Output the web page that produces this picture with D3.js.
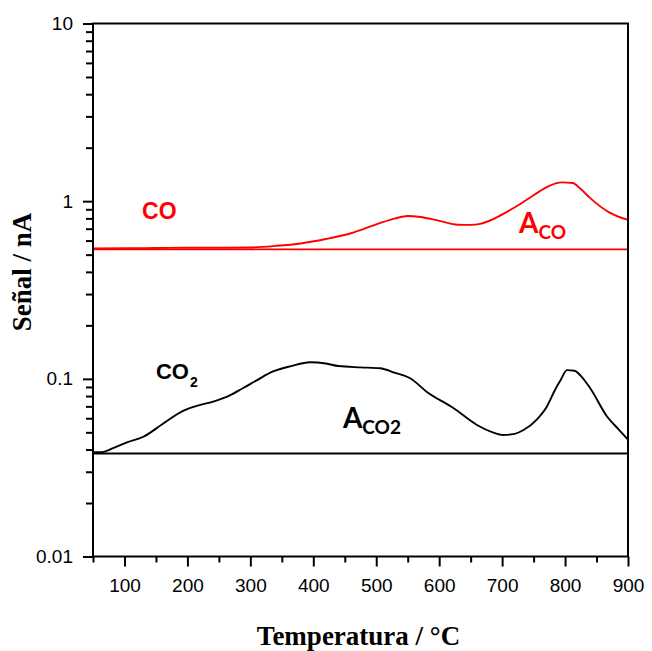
<!DOCTYPE html>
<html>
<head>
<meta charset="utf-8">
<script src="https://cdn.jsdelivr.net/npm/d3@7"></script>
<style>
  body { margin: 0; background: #fff; }
  svg { display: block; }
</style>
</head>
<body>
<div id="chart-container"></div>
<script>
// CO signal (red): temperature (°C) / signal (nA)
const coTemp = [50, 100, 150, 200, 250, 300, 340, 380, 420, 460, 500, 530, 550, 570, 600, 630, 650, 665, 685, 705, 730, 750, 775, 795, 812, 825, 840, 870, 900];
const coSignal = [0.542, 0.543, 0.545, 0.547, 0.547, 0.549, 0.56, 0.578, 0.612, 0.66, 0.74, 0.8, 0.825, 0.815, 0.775, 0.737, 0.735, 0.745, 0.79, 0.86, 0.97, 1.08, 1.22, 1.275, 1.265, 1.17, 1.04, 0.865, 0.785];
const coBase = 0.536;

// CO2 signal (black)
const co2Temp = [50, 65, 82, 105, 130, 160, 193, 215, 241, 265, 288, 310, 336, 365, 395, 420, 440, 475, 506, 530, 554, 580, 623, 660, 685, 702, 720, 734, 755, 771, 785, 793, 803, 815, 825, 840, 867, 885, 900];
const co2Signal = [0.0387, 0.0387, 0.0407, 0.044, 0.0472, 0.0555, 0.066, 0.0705, 0.0745, 0.08, 0.0885, 0.098, 0.11, 0.118, 0.124, 0.122, 0.118, 0.116, 0.1147, 0.108, 0.1007, 0.0847, 0.0683, 0.055, 0.05, 0.0483, 0.049, 0.0515, 0.059, 0.0697, 0.088, 0.0985, 0.112, 0.111, 0.104, 0.0885, 0.0612, 0.052, 0.0455];
const co2Base = 0.038;

// axis ticks
const xTicks = [100, 200, 300, 400, 500, 600, 700, 800, 900];
const xMinorTicks = [50, 150, 250, 350, 450, 550, 650, 750, 850];
const yTicks = [0.01, 0.1, 1, 10];
const yTickLabels = ["0.01", "0.1", "1", "10"];

const W = 652, H = 651;
const margin = { top: 23.5, right: 24, bottom: 94.5, left: 93 };
const width = W - margin.left - margin.right;
const height = H - margin.top - margin.bottom;

const svg = d3.select("#chart-container")
  .append("svg")
  .attr("width", W)
  .attr("height", H);

const g = svg.append("g")
  .attr("transform", `translate(${margin.left}, ${margin.top})`);

const x = d3.scaleLinear().domain([50, 900]).range([0, width]);
const y = d3.scaleLog().domain([0.01, 10]).range([height, 0]);

const coData = coTemp.map((t, i) => ({ t: t, v: coSignal[i] }));
const co2Data = co2Temp.map((t, i) => ({ t: t, v: co2Signal[i] }));

const line = d3.line()
  .x((d) => x(d.t))
  .y((d) => y(d.v))
  .curve(d3.curveMonotoneX);

//baselines
g.append("line")
  .attr("x1", x(50)).attr("x2", x(900))
  .attr("y1", y(coBase)).attr("y2", y(coBase))
  .attr("stroke", "#ff0000").attr("stroke-width", 1.8);
g.append("line")
  .attr("x1", x(50)).attr("x2", x(900))
  .attr("y1", y(co2Base)).attr("y2", y(co2Base))
  .attr("stroke", "#000").attr("stroke-width", 1.8);

//curves
g.append("path")
  .datum(coData)
  .attr("fill", "none")
  .attr("stroke", "#ff0000")
  .attr("stroke-width", 1.9)
  .attr("d", line);
g.append("path")
  .datum(co2Data)
  .attr("fill", "none")
  .attr("stroke", "#000")
  .attr("stroke-width", 1.9)
  .attr("d", line);

//frame
g.append("rect")
  .attr("width", width)
  .attr("height", height)
  .attr("fill", "none")
  .attr("stroke", "#000")
  .attr("stroke-width", 2);

//x axis
g.append("g")
  .attr("transform", `translate(0, ${height})`)
  .call(d3.axisBottom(x).tickValues(xTicks).tickSize(10).tickPadding(12).tickFormat(d3.format("d")))
  .call((a) => a.select(".domain").remove());
g.append("g")
  .attr("transform", `translate(0, ${height})`)
  .call(d3.axisBottom(x).tickValues(xMinorTicks).tickSize(6).tickFormat(""))
  .call((a) => a.select(".domain").remove());

//y axis
g.append("g")
  .call(d3.axisLeft(y).tickValues(yTicks).tickSize(10).tickPadding(10)
    .tickFormat((d, i) => yTickLabels[i]))
  .call((a) => a.select(".domain").remove());
const yMinor = [];
[0.01, 0.1, 1].forEach((dec) => {
  for (let k = 2; k <= 9; k++) yMinor.push(dec * k);
});
g.append("g")
  .call(d3.axisLeft(y).tickValues(yMinor).tickSize(7).tickFormat(""))
  .call((a) => a.select(".domain").remove());

g.selectAll(".tick line").attr("stroke", "#000").attr("stroke-width", 2);
g.selectAll(".tick text")
  .attr("fill", "#000")
  .style("font-family", "'Liberation Sans', Arial, sans-serif")
  .style("font-size", "19px");

//axis titles
svg.append("text")
  .attr("x", margin.left + width / 2 - 2)
  .attr("y", 645)
  .attr("text-anchor", "middle")
  .style("font-family", "'Liberation Serif', 'Times New Roman', serif")
  .style("font-weight", "bold")
  .style("font-size", "27px")
  .text("Temperatura / °C");

svg.append("text")
  .attr("transform", "rotate(-90)")
  .attr("x", -272)
  .attr("y", 31)
  .attr("text-anchor", "middle")
  .style("font-family", "'Liberation Serif', 'Times New Roman', serif")
  .style("font-weight", "bold")
  .style("font-size", "27px")
  .text("Señal / nA");

//annotations
g.append("text")
  .attr("x", x(128)).attr("y", y(0.794))
  .attr("fill", "#ff0000")
  .style("font-family", "'Liberation Sans', Arial, sans-serif")
  .style("font-weight", "bold")
  .style("font-size", "23px")
  .text("CO");

const aco = g.append("text")
  .attr("x", x(727)).attr("y", y(0.662))
  .attr("fill", "#ff0000")
  .style("font-family", "Lato, 'Liberation Sans', sans-serif")
  .style("font-weight", "bold")
  .style("font-size", "28px");
aco.append("tspan").text("A");
aco.append("tspan").attr("dy", 6).style("font-size", "19px").text("CO");

const co2 = g.append("text")
  .attr("x", x(150)).attr("y", y(0.0998))
  .attr("fill", "#000")
  .style("font-family", "'Liberation Sans', Arial, sans-serif")
  .style("font-weight", "bold")
  .style("font-size", "22px");
co2.append("tspan").text("CO");
co2.append("tspan").attr("dy", 8).attr("dx", 1).style("font-size", "14px").text("2");

const aco2 = g.append("text")
  .attr("x", x(447)).attr("y", y(0.0529))
  .attr("fill", "#000")
  .style("font-family", "Lato, 'Liberation Sans', sans-serif")
  .style("font-weight", "bold")
  .style("font-size", "28px");
aco2.append("tspan").text("A");
aco2.append("tspan").attr("dy", 6).style("font-size", "19px").text("CO2");
</script>
</body>
</html>
